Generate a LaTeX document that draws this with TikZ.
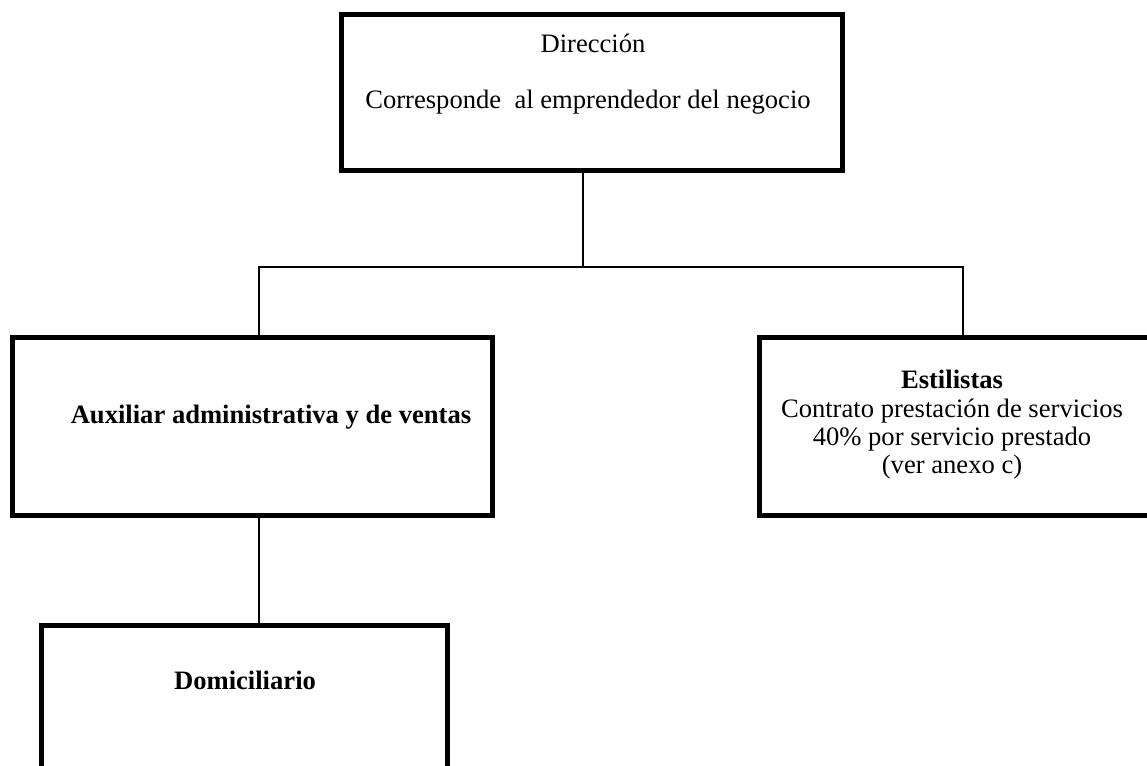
\documentclass[tikz,border=0pt]{standalone}
\usepackage{fontspec}
\setmainfont{Liberation Serif}
\usepackage{tikz}

\tikzset{
  orgbox/.style={draw=black, line width=5pt, rectangle, inner sep=0pt},
  link/.style={draw=black, line width=1.4pt},
  orgtext/.style={font=\fontsize{26.6}{28.3}\selectfont, align=center, inner sep=0pt}
}

\begin{document}
\begin{tikzpicture}[x=1pt, y=-1pt]

      % Page frame (the picture is cut at the edges)
      \clip (0,0) rectangle (1147,765);

      % Draw the boxes
      \node[orgbox, minimum width=501pt, minimum height=156pt] (dir) at (592,92.5) {};
      \node[orgbox, minimum width=480pt, minimum height=178pt] (aux) at (252.5,426.5) {};
      \node[orgbox, minimum width=397pt, minimum height=178pt] (est) at (958,426.5) {};
      \node[orgbox, minimum width=406pt, minimum height=145pt] (dom) at (244.5,698) {};

      % Texts of the boxes
      \node[orgtext] (dirA) at (593,43) {Dirección};
      \node[orgtext] (dirB) at (588,102) {Corresponde~ al emprendedor del negocio};
      \node[orgtext, font=\fontsize{26.6}{28.3}\selectfont\bfseries] (auxT) at (271,417) {Auxiliar administrativa y de ventas};
      \node[orgtext] (estT) at (952,425) {\textbf{Estilistas}\\Contrato prestación de servicios\\40\% por servicio prestado\\(ver anexo c)};
      \node[orgtext, font=\fontsize{26.6}{28.3}\selectfont\bfseries] (domT) at (245,680) {Domiciliario};

      % Bus line
      \coordinate (busC) at (583,267);
      \coordinate (busL) at (259,267);
      \coordinate (busR) at (963,267);

      % Draw the connectors
      \draw[link] (busC |- dir.south) -- (busC);
      \draw[link] (busL |- aux.north) -- (busL) -- (busR) -- (busR |- est.north);
      \draw[link] (busL |- aux.south) -- (busL |- dom.north);

  \end{tikzpicture}
\end{document}
